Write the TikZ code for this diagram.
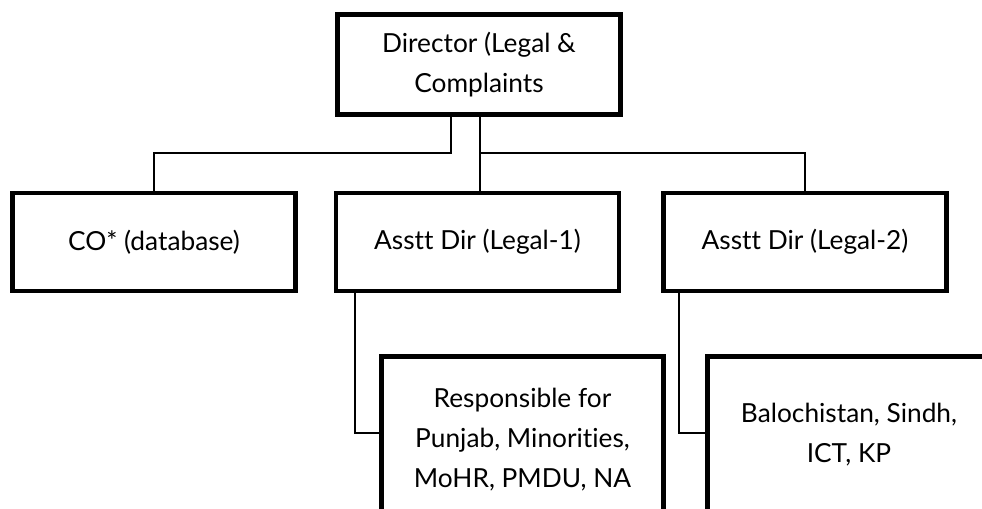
\documentclass[tikz,border=0pt]{standalone}
\usepackage{fontspec}
\setmainfont{Lato}[Ligatures=NoCommon]
\begin{document}
\begin{tikzpicture}[x=0.75pt,y=-0.75pt,
  box/.style={draw, line width=3.6pt, rectangle, align=center, inner sep=0pt,
    minimum width=212.25pt, font=\fontsize{19.7}{30}\selectfont},
  link/.style={line width=1.4pt}]
\useasboundingbox (0,0) rectangle (982,508);
\node[box, minimum height=75pt] (dir) at (479,64.5) {Director (Legal \&\\Complaints};
\node[box, minimum height=73.5pt] (co) at (154,242) {CO* (database)};
\node[box, minimum height=73.5pt] (a1) at (477.5,242) {Asstt Dir (Legal-1)};
\node[box, minimum height=73.5pt] (a2) at (805,242) {Asstt Dir (Legal-2)};
\node[box, minimum height=125pt, minimum width=212pt] (r1) at (522.5,440) {Responsible for\\Punjab, Minorities,\\MoHR, PMDU, NA};
\node[box, minimum height=118pt, minimum width=212pt] (r2) at (849,435) {Balochistan, Sindh,\\ICT, KP};
\coordinate (j1) at (451,153);
\coordinate (j2) at (480,153);
\coordinate (k1) at (355,433);
\coordinate (k2) at (679,433);
\draw[link] (dir.south -| j1) -- (j1) -| (co.north);
\draw[link] (dir.south -| j2) -- (a1.north -| j2);
\draw[link] (j2) -| (a2.north);
\draw[link] (a1.south -| k1) -- (k1) -- (r1.west |- k1);
\draw[link] (a2.south -| k2) -- (k2) -- (r2.west |- k2);
\end{tikzpicture}
\end{document}
